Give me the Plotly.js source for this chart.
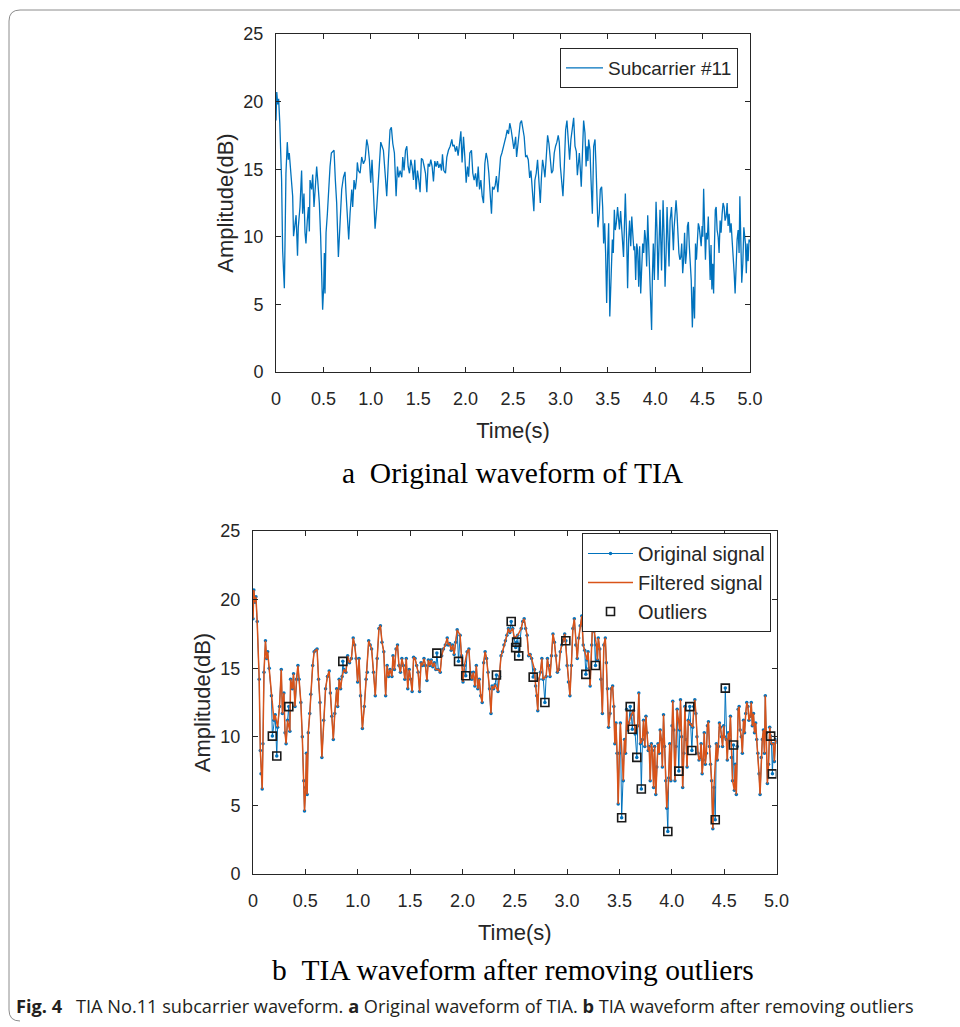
<!DOCTYPE html>
<html>
<head>
<meta charset="utf-8">
<script src="https://cdn.plot.ly/plotly-3.0.1.min.js"></script>
<style>html,body{margin:0;padding:0;background:#fff;}#chart{width:960px;height:1027px;}</style>
</head>
<body>
<div id="chart"></div>
<script>
// ---- Data ----
// Filtered signal (original signal with outliers removed): time (s) and amplitude (dB)
var filteredTime = [0.000,0.008,0.018,0.028,0.040,0.059,0.070,0.077,0.088,0.095,0.105,0.119,0.130,0.140,0.155,0.176,0.200,0.212,0.235,0.253,0.270,0.281,0.295,0.306,0.316,0.330,0.352,0.359,0.376,0.387,0.401,0.415,0.429,0.440,0.457,0.471,0.485,0.492,0.503,0.510,0.517,0.528,0.542,0.552,0.570,0.584,0.598,0.612,0.626,0.640,0.658,0.675,0.693,0.711,0.728,0.739,0.753,0.767,0.781,0.799,0.809,0.823,0.837,0.851,0.869,0.887,0.904,0.922,0.940,0.957,0.971,0.985,0.999,1.013,1.027,1.045,1.063,1.080,1.091,1.105,1.119,1.133,1.151,1.168,1.186,1.203,1.217,1.232,1.249,1.267,1.281,1.295,1.309,1.327,1.337,1.351,1.366,1.380,1.394,1.408,1.422,1.436,1.450,1.464,1.478,1.492,1.506,1.520,1.534,1.548,1.563,1.577,1.591,1.605,1.619,1.633,1.647,1.661,1.675,1.689,1.703,1.717,1.732,1.746,1.770,1.788,1.802,1.819,1.837,1.855,1.865,1.879,1.893,1.907,1.921,1.936,1.950,1.978,1.992,2.006,2.020,2.045,2.062,2.076,2.090,2.105,2.119,2.133,2.147,2.161,2.175,2.189,2.203,2.217,2.231,2.245,2.259,2.273,2.284,2.298,2.312,2.340,2.355,2.369,2.383,2.397,2.411,2.425,2.439,2.453,2.481,2.495,2.528,2.562,2.576,2.590,2.604,2.618,2.633,2.647,2.661,2.689,2.699,2.710,2.720,2.731,2.745,2.759,2.770,2.800,2.812,2.823,2.837,2.851,2.865,2.879,2.893,2.907,2.921,2.935,2.949,2.963,2.977,3.000,3.013,3.027,3.041,3.055,3.069,3.083,3.097,3.111,3.125,3.140,3.154,3.168,3.190,3.200,3.210,3.220,3.235,3.245,3.259,3.280,3.290,3.298,3.312,3.323,3.337,3.351,3.365,3.375,3.386,3.396,3.410,3.421,3.435,3.446,3.456,3.467,3.477,3.488,3.499,3.509,3.537,3.548,3.558,3.569,3.579,3.590,3.613,3.635,3.650,3.675,3.685,3.700,3.720,3.730,3.742,3.753,3.763,3.775,3.784,3.794,3.805,3.815,3.826,3.836,3.847,3.857,3.868,3.879,3.889,3.900,3.910,3.921,3.931,3.942,3.952,3.970,3.980,3.991,4.002,4.009,4.019,4.030,4.040,4.051,4.075,4.083,4.094,4.104,4.115,4.125,4.136,4.146,4.157,4.180,4.200,4.210,4.220,4.230,4.240,4.250,4.260,4.270,4.280,4.290,4.300,4.310,4.320,4.330,4.340,4.350,4.360,4.370,4.380,4.392,4.403,4.425,4.435,4.445,4.455,4.465,4.475,4.485,4.495,4.502,4.520,4.530,4.540,4.550,4.560,4.570,4.580,4.598,4.607,4.616,4.625,4.634,4.643,4.653,4.664,4.674,4.685,4.695,4.706,4.716,4.727,4.737,4.748,4.759,4.769,4.780,4.790,4.801,4.811,4.822,4.833,4.843,4.854,4.864,4.875,4.885,4.893,4.903,4.913,4.924,4.935,4.952,4.970,4.980,4.990,5.000];
var filteredAmp = [18.6,20.7,19.8,20.2,18.4,14.2,9.0,7.3,6.2,9.5,14.7,17.0,15.7,16.2,15.0,13.0,11.2,11.6,10.7,12.2,14.9,11.7,13.2,10.3,9.5,11.2,10.4,14.2,13.5,14.6,12.2,14.2,15.2,14.2,12.5,10.0,6.8,4.6,6.3,8.8,5.8,10.3,11.7,13.1,15.2,16.2,16.3,16.4,14.2,12.5,8.5,11.2,13.5,14.4,14.8,13.2,11.5,9.8,11.7,13.5,12.2,14.2,13.5,14.4,14.9,14.7,15.9,15.4,15.7,17.2,16.7,15.7,14.0,15.7,13.0,10.6,12.2,14.2,14.7,17.0,16.7,16.4,14.7,13.0,15.7,17.9,18.1,16.9,16.2,13.0,15.2,14.4,14.9,14.4,15.9,14.9,16.4,16.7,15.2,14.7,15.7,15.2,14.2,15.7,13.5,14.9,14.2,13.3,15.8,15.7,15.2,14.7,13.3,15.4,15.2,15.7,15.2,14.1,15.6,15.2,15.6,15.1,15.4,14.9,14.9,14.7,15.9,16.4,16.7,17.2,16.7,16.8,16.3,16.7,16.0,16.9,17.8,17.4,15.9,14.0,15.2,16.2,16.4,14.7,14.2,14.7,13.7,15.2,13.5,14.2,13.0,12.5,15.4,16.2,15.7,14.7,13.5,11.7,13.7,13.5,13.8,13.3,14.4,15.9,16.2,16.7,17.0,17.4,17.9,17.6,17.9,17.2,17.4,17.9,18.4,18.6,17.9,17.4,15.9,16.0,15.7,14.9,13.7,13.0,11.9,14.2,14.7,15.7,14.2,14.4,15.7,15.2,14.4,15.9,17.5,16.9,15.9,14.7,14.9,16.2,16.7,17.0,17.5,15.2,14.0,13.0,15.2,17.9,18.6,16.7,15.7,17.2,18.1,18.8,16.7,16.3,15.6,16.2,15.0,13.7,16.7,18.6,17.7,16.7,15.6,17.2,16.4,14.2,11.7,16.7,17.2,15.4,13.5,10.7,11.7,13.5,13.7,12.2,9.5,11.0,8.8,5.1,8.8,11.0,6.8,9.8,8.8,12.0,10.5,11.0,11.6,11.9,10.2,10.8,13.2,9.5,9.8,11.2,9.3,11.5,10.3,9.0,9.3,6.8,9.5,9.0,6.3,9.3,5.8,7.8,9.5,8.8,10.5,9.8,7.8,11.6,9.3,6.8,4.8,7.0,9.5,6.8,10.8,12.6,10.5,6.8,9.3,12.0,10.5,12.7,10.0,6.3,8.8,12.2,9.8,7.8,11.2,10.9,10.7,12.2,12.7,11.7,10.0,8.8,8.3,8.5,9.5,7.3,8.3,10.3,8.0,8.8,10.8,11.1,9.3,8.0,6.8,3.3,6.3,9.5,8.3,9.3,11.0,10.7,10.0,9.3,10.8,10.0,9.8,8.3,10.3,9.8,11.5,8.5,6.8,6.1,8.0,5.8,9.3,12.0,12.2,10.5,10.0,8.8,11.2,10.3,11.7,12.5,12.2,11.2,11.5,12.5,10.8,11.7,10.3,11.0,9.8,8.8,7.3,5.8,8.5,9.8,10.5,8.8,13.0,10.3,6.6,8.0,10.7,9.5,9.5,8.2,9.8,9.6];
// Outliers detected in the original signal
var outlierTime = [0.185,0.227,0.342,0.858,1.756,1.963,2.032,2.325,2.466,2.509,2.518,2.538,2.676,2.788,2.988,3.179,3.271,3.521,3.603,3.623,3.666,3.709,3.962,4.067,4.172,4.192,4.415,4.511,4.589,4.944,4.961];
var outlierAmp  = [10.05,8.6,12.2,15.5,16.1,15.5,14.45,14.5,18.4,16.5,16.9,15.9,14.35,12.5,17.0,14.55,15.2,4.1,12.2,10.55,8.5,6.2,3.1,7.5,12.2,9.0,3.95,13.55,9.4,10.05,7.3];
// Axis ticks
var xTickVals = [0,0.5,1,1.5,2,2.5,3,3.5,4,4.5,5];
var xTickText = ['0','0.5','1.0','1.5','2.0','2.5','3.0','3.5','4.0','4.5','5.0'];
var yTickVals = [0,5,10,15,20,25];

// Original signal = filtered points plus the outliers, in time order
var pairs = [];
for (var i = 0; i < filteredTime.length; i++) pairs.push([filteredTime[i], filteredAmp[i]]);
for (var j = 0; j < outlierTime.length; j++) pairs.push([outlierTime[j], outlierAmp[j]]);
pairs.sort(function(a,b){return a[0]-b[0];});
var originalTime = pairs.map(function(p){return p[0];});
var originalAmp = pairs.map(function(p){return p[1];});

var W = 960, H = 1027;
function X(px){return px/W;}
function Y(py){return 1 - py/H;}

var BLUE = '#0072BD', ORANGE = '#D95319', AX = '#262626';
var FONT = 'Liberation Sans, Arial, sans-serif';

function xAxis(dom, anchor){
  return {domain: dom, anchor: anchor, range:[0,5], tickvals:xTickVals, ticktext:xTickText,
    ticks:'inside', ticklen:5, tickwidth:1, tickcolor:AX, mirror:'allticks', showline:true,
    linecolor:AX, linewidth:1, showgrid:false, zeroline:false, ticklabelstandoff:10,
    tickfont:{family:FONT, size:18, color:AX},
    title:{text:'Time(s)', font:{family:FONT, size:22, color:AX}, standoff:15}};
}
function yAxis(dom, anchor){
  return {domain: dom, anchor: anchor, range:[0,25], tickvals:yTickVals,
    ticks:'inside', ticklen:5, tickwidth:1, tickcolor:AX, mirror:'allticks', showline:true,
    linecolor:AX, linewidth:1, showgrid:false, zeroline:false, ticklabelstandoff:8,
    tickfont:{family:FONT, size:18, color:AX},
    title:{text:'Amplitude(dB)', font:{family:FONT, size:22, color:AX}, standoff:3}};
}

var traces = [
  {x: originalTime, y: originalAmp, type:'scatter', mode:'lines', name:'Subcarrier #11',
   xaxis:'x', yaxis:'y', line:{color:BLUE, width:1.3}, legend:'legend'},
  {x: originalTime, y: originalAmp, type:'scatter', mode:'lines+markers', name:'Original signal',
   xaxis:'x2', yaxis:'y2', line:{color:BLUE, width:1}, marker:{color:BLUE, size:3.5},
   legend:'legend2', legendgroup:'a'},
  {x: filteredTime, y: filteredAmp, type:'scatter', mode:'lines', name:'Filtered signal',
   xaxis:'x2', yaxis:'y2', line:{color:ORANGE, width:1.5}, legend:'legend2', legendgroup:'b'},
  {x: outlierTime, y: outlierAmp, type:'scatter', mode:'markers', name:'Outliers',
   xaxis:'x2', yaxis:'y2', marker:{symbol:'square-open', size:8, color:'#1a1a1a', line:{width:1.6}},
   legend:'legend2', legendgroup:'c'}
];

var framePath = 'M ' + X(960) + ',' + Y(10) + ' L ' + X(20) + ',' + Y(10) +
  ' Q ' + X(9) + ',' + Y(10) + ' ' + X(9) + ',' + Y(21) +
  ' L ' + X(9) + ',' + Y(1010) + ' Q ' + X(9) + ',' + Y(1021) + ' ' + X(20) + ',' + Y(1021);

var layout = {
  width: W, height: H, margin:{l:0,r:0,t:0,b:0},
  paper_bgcolor:'#ffffff', plot_bgcolor:'#ffffff',
  font:{family:FONT, color:AX},
  showlegend:true,
  xaxis: xAxis([X(276), X(750)], 'y'),
  yaxis: yAxis([Y(372), Y(34)], 'x'),
  xaxis2: xAxis([X(253), X(776.5)], 'y2'),
  yaxis2: yAxis([Y(874), Y(531)], 'x2'),
  legend:{x:X(560), y:Y(48), xanchor:'left', yanchor:'top', bgcolor:'#ffffff',
    bordercolor:AX, borderwidth:1, itemwidth:37, font:{family:FONT, size:19, color:AX}},
  legend2:{x:X(582), y:Y(533), xanchor:'left', yanchor:'top', bgcolor:'#ffffff',
    bordercolor:AX, borderwidth:1, itemwidth:45, font:{family:FONT, size:20, color:AX},
    traceorder:'grouped', tracegroupgap:0},
  shapes:[{type:'path', xref:'paper', yref:'paper', path:framePath,
    line:{color:'#8c8c8c', width:1}}],
  annotations:[
    {text:'a\u2002Original waveform of TIA', xref:'paper', yref:'paper', x:X(513), y:Y(473),
     xanchor:'center', yanchor:'middle', showarrow:false,
     font:{family:'Liberation Serif, Times New Roman, serif', size:29.5, color:'#000'}},
    {text:'b\u2002TIA waveform after removing outliers', xref:'paper', yref:'paper', x:X(513), y:Y(970),
     xanchor:'center', yanchor:'middle', showarrow:false,
     font:{family:'Liberation Serif, Times New Roman, serif', size:29.5, color:'#000'}},
    {text:'<b>Fig. 4</b>\u2002 TIA No.11 subcarrier waveform. <b>a</b> Original waveform of TIA. <b>b</b> TIA waveform after removing outliers',
     xref:'paper', yref:'paper', x:X(14), y:Y(1006), xanchor:'left', yanchor:'middle', showarrow:false,
     font:{family:'Open Sans, sans-serif', size:18.2, color:'#231f20'}}
  ]
};

Plotly.newPlot('chart', traces, layout, {displayModeBar:false, staticPlot:true});
</script>
</body>
</html>
